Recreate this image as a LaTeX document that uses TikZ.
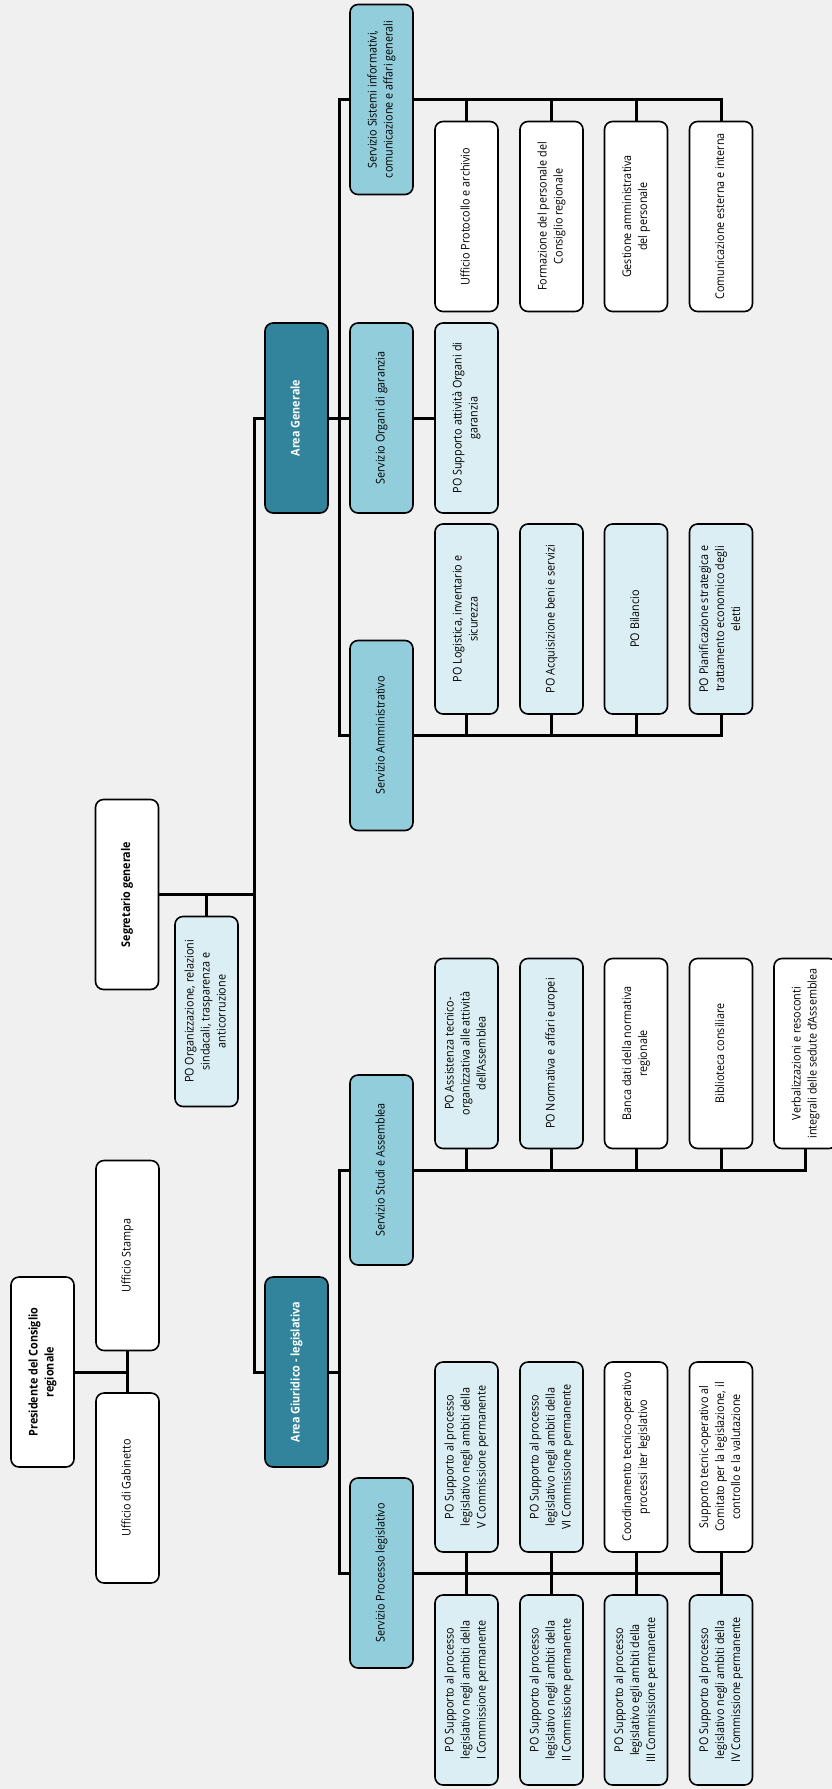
\documentclass[tikz,border=0pt]{standalone}
\usepackage{fontspec}
\setmainfont{Open Sans}[FakeStretch=0.9]
\usetikzlibrary{calc,backgrounds}

\definecolor{bgc}{HTML}{F0F0F0}
\definecolor{areac}{HTML}{31849B}
\definecolor{servc}{HTML}{92CDDC}
\definecolor{poc}{HTML}{DAEEF3}

% text set vertically, reading from bottom to top
\newcommand{\vtext}[1]{\rotatebox{90}{\begin{tabular}{@{}c@{}}#1\end{tabular}}}

\tikzset{
  box/.style={draw, line width=1.6pt, rounded corners=8pt, minimum width=63pt,
    minimum height=190pt, inner sep=0pt, font=\fontsize{12}{16}\selectfont},
  whitebox/.style={box, fill=white},
  pobox/.style={box, fill=poc},
  servbox/.style={box, fill=servc},
  areabox/.style={box, fill=areac, text=white, font=\fontsize{12}{16}\selectfont\bfseries},
  headbox/.style={box, fill=white, font=\fontsize{12}{16}\selectfont\bfseries},
  link/.style={line width=3pt, line join=miter, line cap=rect}
}

\begin{document}
\begin{tikzpicture}[x=1pt, y=-1pt]
\path[use as bounding box] (0,0) rectangle (832,1789);

% vertical spines
\coordinate (spA) at (254,0);
\coordinate (spB) at (339,0);

% ---------- boxes ----------
\node[headbox]  (pres) at (42.5,1372) {\vtext{Presidente del Consiglio\\regionale}};
\node[whitebox] (stampa) at (127.5,1255.5) {\vtext{Ufficio Stampa}};
\node[whitebox] (gab) at (127.5,1488) {\vtext{Ufficio di Gabinetto}};

\node[headbox] (segr) at (127,894.5) {\vtext{Segretario generale}};
\node[pobox] (poorg) at (206.5,1011.5) {\vtext{PO Organizzazione, relazioni\\sindacali, trasparenza e\\anticorruzione}};

\node[areabox] (ag) at (296.5,418) {\vtext{Area Generale}};
\node[areabox] (aj) at (296.5,1372) {\vtext{Area Giuridico - legislativa}};

% Area Generale services
\node[servbox] (sist) at (381.5,99.5) {\vtext{Servizio Sistemi informativi,\\comunicazione e affari generali}};
\node[servbox] (org) at (381.5,418) {\vtext{Servizio Organi di garanzia}};
\node[servbox] (amm) at (381.5,735.5) {\vtext{Servizio Amministrativo}};

\node[whitebox] (s1) at (466.5,216.5) {\vtext{Ufficio Protocollo e archivio}};
\node[whitebox] (s2) at (551.5,216.5) {\vtext{Formazione del personale del\\Consiglio regionale}};
\node[whitebox] (s3) at (636,216.5) {\vtext{Gestione amministrativa\\del personale}};
\node[whitebox] (s4) at (721,216.5) {\vtext{Comunicazione esterna e interna}};

\node[pobox] (o1) at (466.5,418) {\vtext{PO Supporto attività Organi di\\garanzia}};

\node[pobox] (m1) at (466.5,619) {\vtext{PO Logistica, inventario e\\sicurezza}};
\node[pobox] (m2) at (551.5,619) {\vtext{PO Acquisizione beni e servizi}};
\node[pobox] (m3) at (636,619) {\vtext{PO Bilancio}};
\node[pobox] (m4) at (721,619) {\vtext{PO Pianificazione strategica e\\trattamento economico degli\\eletti}};

% Area Giuridico services
\node[servbox] (studi) at (381.5,1170) {\vtext{Servizio Studi e Assemblea}};
\node[servbox] (proc) at (381.5,1573) {\vtext{Servizio Processo legislativo}};

\node[pobox] (a1) at (466.5,1053.5) {\vtext{PO Assistenza tecnico-\\organizzativa alle attività\\dell’Assemblea}};
\node[pobox] (a2) at (551.5,1053.5) {\vtext{PO Normativa e affari europei}};
\node[whitebox] (a3) at (636,1053.5) {\vtext{Banca dati della normativa\\regionale}};
\node[whitebox] (a4) at (721,1053.5) {\vtext{Biblioteca consiliare}};
\node[whitebox] (a5) at (805.5,1053.5) {\vtext{Verbalizzazioni e resoconti\\integrali delle sedute d’Assemblea}};

\node[pobox] (p5) at (466.5,1457) {\vtext{PO Supporto al processo\\legislativo negli ambiti della\\V Commissione permanente}};
\node[pobox] (p6) at (551.5,1457) {\vtext{PO Supporto al processo\\legislativo negli ambiti della\\VI Commissione permanente}};
\node[whitebox] (pc) at (636,1457) {\vtext{Coordinamento tecnico-operativo\\processi iter legislativo}};
\node[whitebox] (pt) at (721,1457) {\vtext{Supporto tecnic-operativo al\\Comitato per la legislazione, il\\controllo e la valutazione}};

\node[pobox] (p1) at (466.5,1690) {\vtext{PO Supporto al processo\\legislativo negli ambiti della\\I Commissione permanente}};
\node[pobox] (p2) at (551.5,1690) {\vtext{PO Supporto al processo\\legislativo negli ambiti della\\II Commissione permanente}};
\node[pobox] (p3) at (636,1690) {\vtext{PO Supporto al processo\\legislativo egli ambiti della\\III Commissione permanente}};
\node[pobox] (p4) at (721,1690) {\vtext{PO Supporto al processo\\legislativo negli ambiti della\\IV Commissione permanente}};

% ---------- connectors (behind boxes) ----------
\begin{scope}[on background layer]
\fill[bgc] (0,0) rectangle (832,1789);

% president and offices
\draw[link] (pres.east) -- (pres.east -| stampa.south);
\draw[link] (stampa.south) -- (gab.north);

% general secretary and the two areas
\draw[link] (segr.east) -- (segr.east -| spA);
\draw[link] (poorg.north) -- (poorg.north |- segr.east);
\draw[link] (ag.west) -- (ag.west -| spA) -- (aj.west -| spA) -- (aj.west);

% Area Generale
\draw[link] (ag.east) -- (org.west);
\draw[link] (sist.west) -- (sist.west -| spB) -- (amm.west -| spB) -- (amm.west);
\draw[link] (org.east) -- (o1.west);
\draw[link] (sist.east) -- (sist.east -| s4.north);
\foreach \c in {s1,s2,s3,s4}
  \draw[link] (\c.north) -- (\c.north |- sist.east);
\draw[link] (amm.east) -- (amm.east -| m4.south);
\foreach \c in {m1,m2,m3,m4}
  \draw[link] (\c.south) -- (\c.south |- amm.east);

% Area Giuridico - legislativa
\draw[link] (aj.east) -- (aj.east -| spB);
\draw[link] (studi.west) -- (studi.west -| spB) -- (proc.west -| spB) -- (proc.west);
\draw[link] (studi.east) -- (studi.east -| a5.south);
\foreach \c in {a1,a2,a3,a4,a5}
  \draw[link] (\c.south) -- (\c.south |- studi.east);
\draw[link] (proc.east) -- (proc.east -| pt.south);
\draw[link] (p5.south) -- (p1.north);
\draw[link] (p6.south) -- (p2.north);
\draw[link] (pc.south) -- (p3.north);
\draw[link] (pt.south) -- (p4.north);
\end{scope}
\end{tikzpicture}
\end{document}
